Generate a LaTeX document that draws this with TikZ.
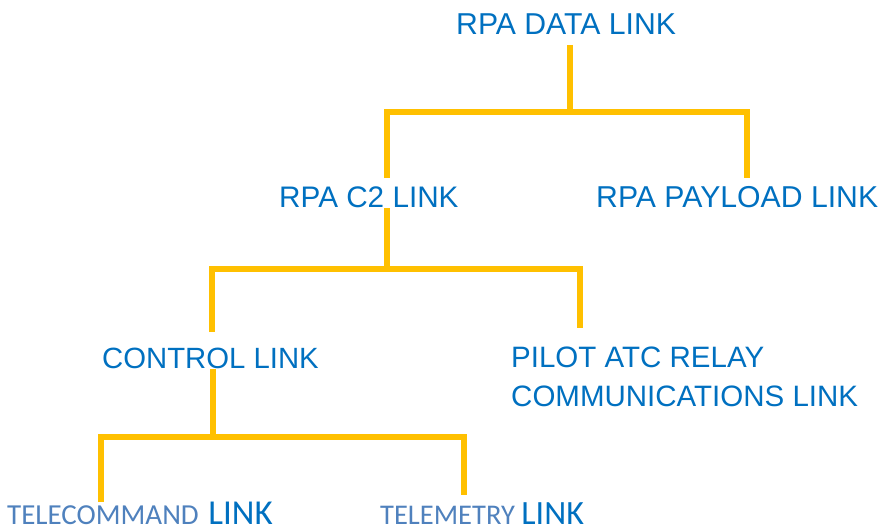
\documentclass[tikz,border=0pt]{standalone}
\usepackage{fontspec}
\setmainfont{Liberation Sans}
\newfontfamily\calib{Carlito}
\definecolor{lblue}{HTML}{0070C0}
\definecolor{sblue}{HTML}{4F81BD}
\definecolor{lyel}{HTML}{FFC000}
\begin{document}
\begin{tikzpicture}[x=1pt,y=1pt,
  lbl/.style={anchor=base west,inner sep=0pt,text=lblue,font=\fontsize{30.2}{38.5}\selectfont},
  small/.style={anchor=base west,inner sep=0pt,text=sblue},
  link/.style={draw=lyel,line width=6pt,line join=miter}]
\useasboundingbox (0,0) rectangle (878,-527);
% labels
\node[lbl] (data) at (456,-35) {RPA DATA LINK};
\node[lbl,font=\fontsize{29.7}{38.5}\selectfont] (c2) at (279,-207) {RPA C2 LINK};
\node[lbl] (payload) at (596,-207) {RPA PAYLOAD LINK};
\node[lbl,font=\fontsize{29.3}{38.5}\selectfont] (control) at (102,-368) {CONTROL LINK};
\node[lbl,align=left,font=\fontsize{29.5}{38.5}\selectfont] (pilot) at (511,-406) {PILOT ATC RELAY\\COMMUNICATIONS LINK};
\node[small] (tc) at (7,-524) {\calib\fontsize{29}{30}\selectfont TELECOMMAND\hspace{3pt} {\fontsize{35}{36}\selectfont\color{lblue}LINK}};
\node[small] (tm) at (380,-524) {\calib\fontsize{28.5}{30}\selectfont TELEMETRY {\fontsize{34}{36}\selectfont\color{lblue}LINK}};
% junction coordinates
\coordinate (d0) at (570,-45);
\coordinate (d1) at (570,-112);
\coordinate (c2top) at (387,-178);
\coordinate (paytop) at (747,-178);
\coordinate (c0) at (387,-208);
\coordinate (c1) at (387,-269);
\coordinate (ctltop) at (212,-332);
\coordinate (piltop) at (580,-328);
\coordinate (k0) at (213,-369);
\coordinate (k1) at (213,-437);
\coordinate (tctop) at (101,-502);
\coordinate (tmtop) at (464,-495);
% connectors
\draw[link] (d0) -- (d1);
\draw[link] (c2top) |- (paytop |- d1) -- (paytop);
\draw[link] (c0) -- (c1);
\draw[link] (ctltop) |- (piltop |- c1) -- (piltop);
\draw[link] (k0) -- (k1);
\draw[link] (tctop) |- (tmtop |- k1) -- (tmtop);
\end{tikzpicture}
\end{document}
